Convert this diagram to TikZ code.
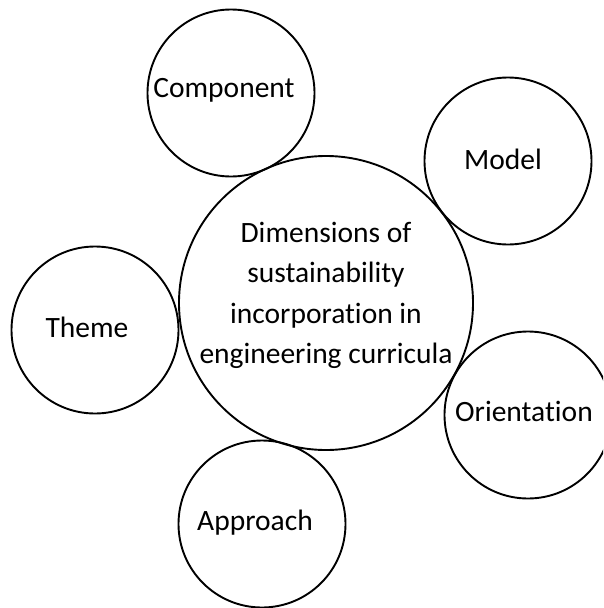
\documentclass[tikz,border=0pt]{standalone}
\usepackage{fontspec}
\setmainfont{Carlito}[Ligatures={NoCommon}]
\begin{document}
\begin{tikzpicture}[x=1pt,y=-1pt,
  bub/.style={circle, draw=black, line width=1.9pt, inner sep=0pt, minimum size=#1},
  lbl/.style={font=\fontsize{29.5}{40.5}\selectfont, inner sep=0pt, anchor=base},
  ctext/.style={font=\fontsize{29.5}{40.5}\selectfont, inner sep=0pt, align=center}]
\useasboundingbox (0,0) rectangle (603,608);
\clip (0,0) rectangle (603,608);
\node[bub=294pt] (center) at (326,303) {};
\node[bub=167pt] (comp) at (231,93) {};
\node[bub=167pt] (model) at (508,161) {};
\node[bub=167pt] (theme) at (95,330) {};
\node[bub=167pt] (orient) at (528,415) {};
\node[bub=167pt] (appr) at (262,524) {};
\node[ctext] (ctxt) at (326,295.5) {Dimensions of\\sustainability\\incorporation in\\engineering curricula};
\node[lbl] (compt) at (224,97) {Component};
\node[lbl] (modelt) at (503,169) {Model};
\node[lbl] (themet) at (87,337) {Theme};
\node[lbl] (orientt) at (524,421) {Orientation};
\node[lbl] (apprt) at (255,530) {Approach};
\end{tikzpicture}
\end{document}
